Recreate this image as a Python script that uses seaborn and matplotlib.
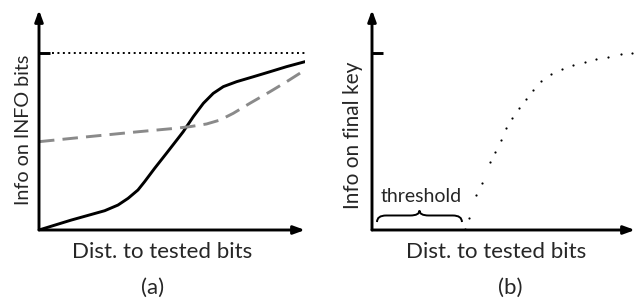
import numpy as np
import pandas as pd
import seaborn as sns
import matplotlib.pyplot as plt
from matplotlib.path import Path
from matplotlib.patches import PathPatch

sns.set_theme(style="white")
plt.rcParams['font.family'] = ['Lato', 'DejaVu Sans']

# Panel (a): information on INFO bits vs distance to tested bits
a_solid_x = [0.0, 0.121, 0.247, 0.297, 0.335, 0.372, 0.397, 0.435, 0.479, 0.523,
             0.542, 0.580, 0.618, 0.655, 0.693, 0.743, 0.806, 0.868, 0.931, 1.0]
a_solid_y = [0.0, 0.056, 0.109, 0.141, 0.179, 0.226, 0.273, 0.349, 0.433, 0.518,
             0.555, 0.640, 0.716, 0.772, 0.810, 0.838, 0.866, 0.894, 0.923, 0.951]
a_dash_x = [0.0, 0.184, 0.372, 0.516, 0.568, 0.630, 0.680, 0.730, 0.793, 0.868, 0.931, 1.0]
a_dash_y = [0.499, 0.527, 0.555, 0.575, 0.584, 0.599, 0.621, 0.659, 0.716, 0.781, 0.838, 0.904]
a_max = 1.0

# Panel (b): information on final key (dotted curve)
b_x = [0.352, 0.367, 0.397, 0.418, 0.450, 0.469, 0.491, 0.510, 0.533, 0.558, 0.586,
       0.611, 0.643, 0.681, 0.723, 0.766, 0.810, 0.852, 0.898, 0.945, 0.989]
b_y = [0.004, 0.066, 0.198, 0.264, 0.382, 0.442, 0.508, 0.574, 0.631, 0.687, 0.740,
       0.791, 0.843, 0.881, 0.908, 0.932, 0.951, 0.964, 0.979, 0.993, 0.998]
threshold = 0.352

x_label = "Dist. to tested bits"
a_ylabel = "Info on INFO bits"
b_ylabel = "Info on final key"
panel_labels = ["(a)", "(b)"]

W, H = 641, 299
fig = plt.figure(figsize=(W / 100, H / 100), dpi=100)

y_top = 220 / 177  # data height of y-axis arrow
LW = 2.1


def make_axes(left_px, right_px):
    ax = fig.add_axes([left_px / W, (H - 230) / H, (right_px - left_px) / W, 220 / H])
    ax.set_xlim(0, 1)
    ax.set_ylim(0, y_top)
    ax.axis('off')
    ap = dict(arrowstyle='-|>,head_length=0.55,head_width=0.2', lw=LW, color='black',
              shrinkA=0, shrinkB=0)
    ax.annotate('', xy=(1.0, 0), xytext=(0, 0), arrowprops=ap, annotation_clip=False)
    ax.annotate('', xy=(0, y_top), xytext=(0, 0), arrowprops=ap, annotation_clip=False)
    return ax


axa = make_axes(39, 305)
axa.plot([0, 0.042], [a_max, a_max], color='black', lw=LW, solid_capstyle='butt')
axa.plot([0.05, 1.0], [a_max, a_max], color='black', lw=1.4, linestyle=(0, (1, 1.8)))
df_s = pd.DataFrame({'x': a_solid_x, 'y': a_solid_y})
df_d = pd.DataFrame({'x': a_dash_x, 'y': a_dash_y})
sns.lineplot(data=df_s, x='x', y='y', ax=axa, color='black', lw=LW, sort=False)
sns.lineplot(data=df_d, x='x', y='y', ax=axa, color='#8a8a8a', lw=LW, sort=False,
             linestyle=(0, (5.3, 2.8)))
axa.axis('off')

axb = make_axes(372, 635)
axb.plot([0, 0.04], [a_max, a_max], color='black', lw=LW, solid_capstyle='butt')
df_b = pd.DataFrame({'x': b_x, 'y': b_y})
sns.scatterplot(data=df_b, x='x', y='y', ax=axb, color='black', s=2.5, linewidth=0)
axb.axis('off')

# brace under "threshold"
x0, x1 = 0.019, threshold - 0.01
xm = (x0 + x1) / 2
yb, yh, yt = 0.045, 0.082, 0.11
q = 0.035
verts = [(x0, yb), (x0, yh), (x0 + q, yh),
         (xm - q, yh), (xm, yh), (xm, yt),
         (xm, yh), (xm + q, yh),
         (x1 - q, yh), (x1, yh), (x1, yb)]
codes = [Path.MOVETO, Path.CURVE3, Path.CURVE3,
         Path.LINETO, Path.CURVE3, Path.CURVE3,
         Path.CURVE3, Path.CURVE3,
         Path.LINETO, Path.CURVE3, Path.CURVE3]
axb.add_patch(PathPatch(Path(verts, codes), fill=False, lw=1.4, color='black'))
axb.text(xm + 0.005, 0.19, "threshold", ha='center', va='center', fontsize=14)

fs = 16
fig.text(162 / W, 1 - 252 / H, x_label, ha='center', va='center', fontsize=fs)
fig.text(496 / W, 1 - 252 / H, x_label, ha='center', va='center', fontsize=fs)
fig.text(24 / W, 1 - 130 / H, a_ylabel, ha='center', va='center', fontsize=14.2, rotation=90)
fig.text(353 / W, 1 - 135 / H, b_ylabel, ha='center', va='center', fontsize=15, rotation=90)
fig.text(153 / W, 1 - 288 / H, panel_labels[0], ha='center', va='center', fontsize=fs)
fig.text(510 / W, 1 - 288 / H, panel_labels[1], ha='center', va='center', fontsize=fs)

fig.savefig('out.png', dpi=100)
